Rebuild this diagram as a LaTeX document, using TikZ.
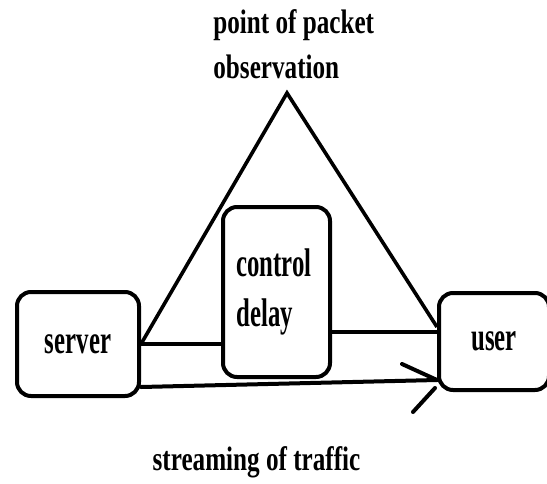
\documentclass[tikz,border=0pt]{standalone}
\usepackage{fontspec}
\newfontfamily\lblfont{Liberation Serif}[FakeStretch=0.74]
\newfontfamily\boxfont{Liberation Serif}[FakeStretch=0.62]
\tikzset{
    box/.style={draw, line width=2pt, rounded corners=7pt, font=\boxfont\bfseries\fontsize{20}{25}\selectfont},
    lbl/.style={inner sep=0pt, font=\lblfont\bfseries\fontsize{17}{22.5}\selectfont},
    link/.style={-, line width=1.8pt, draw=black},
    flow/.style={-, line width=2pt, draw=black, line cap=round},
}
\begin{document}
\begin{tikzpicture}[x=0.5pt, y=-0.5pt]
\useasboundingbox (0,0) rectangle (547,483);
\node[box, minimum width=61pt, minimum height=52pt] (srv) at (78,344) {server};
\node[box, minimum width=53.5pt, minimum height=85pt, text width=40pt, align=left] (ctl) at (276.5,292) {control\\delay};
\node[box, minimum width=55pt, minimum height=48.5pt] (usr) at (494,341.5) {user};
\coordinate (apex) at (287,93);
\coordinate (tri) at ([yshift=7.25pt]usr.west);
\coordinate (out) at ([yshift=4.75pt]usr.west);
\coordinate (tip) at ([yshift=-19.25pt]usr.west);
\coordinate (src) at ([yshift=-21.5pt]srv.east);
\draw[link] (srv.east) -- (apex) -- (tri);
\draw[link] (srv.east) -- (srv.east -| ctl.west);
\draw[link] (ctl.east |- out) -- (out);
\draw[flow] (src) -- (tip);
\draw[flow] (tip) -- ++(-35,-16);
\draw[flow] ([shift={(-2,8)}]tip) -- ++(-22,24);
\node[lbl, anchor=base west, align=left] (obs) at (213,78) {point of packet\\observation};
\node[lbl, anchor=base] (strm) at (256.5,470) {streaming of traffic};
\end{tikzpicture}
\end{document}
